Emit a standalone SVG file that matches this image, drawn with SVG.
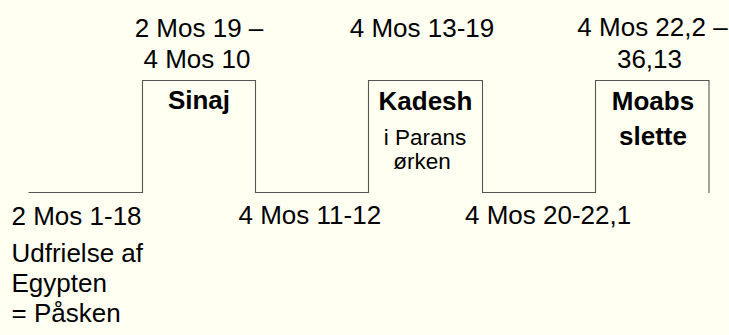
<svg xmlns="http://www.w3.org/2000/svg" width="729" height="335" viewBox="0 0 729 335">
<style>
text{font-family:"Liberation Sans",Arial,Helvetica,sans-serif;fill:#000}
.r{font-size:26px}
.b{font-size:26px;font-weight:bold}
.s{font-size:22.5px}
.m{text-anchor:middle}
.line{fill:none;stroke:#555;stroke-width:1.1}
</style>
<rect width="729" height="335" fill="#fffff2"/>
<g id="connectors">
<polyline class="line" points="28.5,192.5 142.5,192.5 142.5,80.5 255.5,80.5 255.5,192.5 368.5,192.5 368.5,80.5 482.5,80.5 482.5,192.5 595.5,192.5 595.5,80.5 709,80.5 709,193"/>
</g>
<g id="egypt">
<text class="r" x="11.5" y="224.5">2 Mos 1-18</text>
<text class="r" x="11.5" y="262">Udfrielse af</text>
<text class="r" x="11.5" y="292">Egypten</text>
<text class="r" x="11.5" y="322">= Påsken</text>
</g>
<g id="sinaj">
<text class="r m" x="199" y="36.5">2 Mos 19 –</text>
<text class="r m" x="197" y="68">4 Mos 10</text>
<text class="b m" x="199" y="108.5">Sinaj</text>
</g>
<g id="wilderness1">
<text class="r" x="238.5" y="224">4 Mos 11-12</text>
</g>
<g id="kadesh">
<text class="r m" x="422" y="36.5">4 Mos 13-19</text>
<text class="b m" x="425.5" y="109.5">Kadesh</text>
<text class="s m" x="425" y="145">i Parans</text>
<text class="s m" x="422" y="168.5">ørken</text>
</g>
<g id="wilderness2">
<text class="r" x="465" y="224">4 Mos 20-22,1</text>
</g>
<g id="moab">
<text class="r m" x="652.5" y="35.5">4 Mos 22,2 –</text>
<text class="r m" x="649.5" y="68">36,13</text>
<text class="b m" x="653" y="109.5">Moabs</text>
<text class="b m" x="653" y="145">slette</text>
</g>
</svg>
